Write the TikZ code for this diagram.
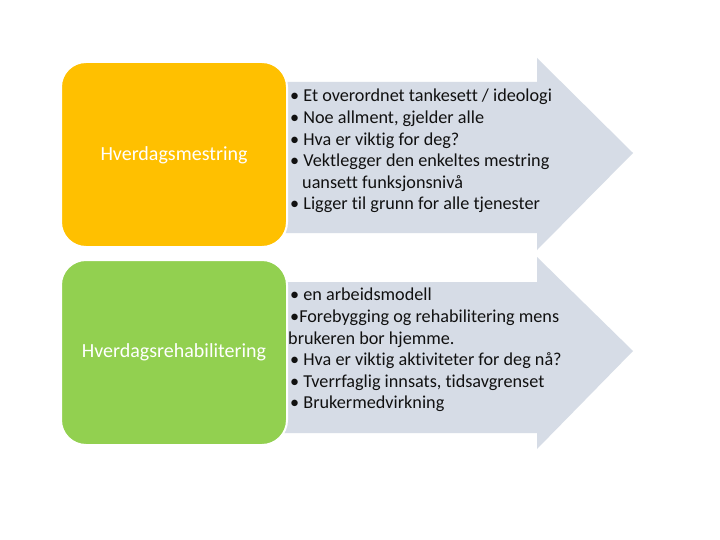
\documentclass[tikz,border=0pt]{standalone}
\usepackage{fontspec}
\setmainfont{Carlito}[Ligatures={NoCommon}]
\definecolor{boxorange}{HTML}{FFC000}
\definecolor{boxgreen}{HTML}{92D050}
\definecolor{arrowfill}{HTML}{D6DCE6}
\definecolor{txt}{HTML}{111111}
\begin{document}
\begin{tikzpicture}[x=1pt,y=-1pt,
  box/.style={draw=white,line width=2pt,rounded corners=25pt},
  boxtext/.style={text=white,font=\fontsize{20}{24}\selectfont},
  arrowtext/.style={anchor=north west,align=left,text=txt,inner sep=0pt,
    font=\fontsize{18.2}{21.6}\selectfont}]
\useasboundingbox[fill=white] (0,0) rectangle (720,540);
% arrows
\fill[arrowfill] (280,82) -- (537,82) -- (537,58) -- (633,153) -- (537,250) -- (537,233) -- (280,233) -- cycle;
\fill[arrowfill] (280,282) -- (537,282) -- (537,257) -- (633,351) -- (537,449) -- (537,433) -- (280,433) -- cycle;
% boxes
\filldraw[box,fill=boxorange] (61,62) rectangle (287,247);
\filldraw[box,fill=boxgreen] (61,260) rectangle (287,445);
\node[boxtext] (b1) at (174,155) {Hverdagsmestring};
\node[boxtext] (b2) at (174,352) {Hverdagsrehabilitering};
% texts
\node[arrowtext] (t1) at (290,89) {%
• Et overordnet tankesett / ideologi\\
• Noe allment, gjelder alle\\
• Hva er viktig for deg?\\
• Vektlegger den enkeltes mestring\\
\hspace*{12pt}uansett funksjonsnivå\\
• Ligger til grunn for alle tjenester};
\node[arrowtext] (t2) at (288,288) {%
\hspace*{2pt}• en arbeidsmodell\\
\hspace*{2pt}•Forebygging og rehabilitering mens\\
brukeren bor hjemme.\\
\hspace*{2pt}• Hva er viktig aktiviteter for deg nå?\\
\hspace*{2pt}• Tverrfaglig innsats, tidsavgrenset\\
\hspace*{2pt}• Brukermedvirkning};
\end{tikzpicture}
\end{document}
